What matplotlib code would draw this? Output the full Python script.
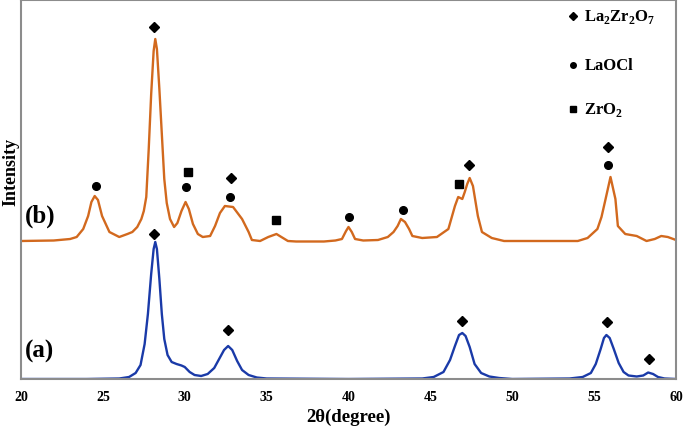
"""
XRD patterns (a) and (b) with phase markers
"""

import matplotlib
matplotlib.use("Agg")
import matplotlib.pyplot as plt

plt.rcParams["font.family"] = ["Liberation Serif", "DejaVu Serif"]
plt.rcParams["font.weight"] = "bold"
plt.rcParams["mathtext.fontset"] = "custom"
plt.rcParams["mathtext.rm"] = "Liberation Serif:bold"
plt.rcParams["mathtext.bf"] = "Liberation Serif:bold"

# Pattern (a) - blue
two_theta_a = [20, 24, 26, 26.6, 27.0, 27.3, 27.55, 27.75, 27.95, 28.1, 28.2,
               28.3, 28.45, 28.6, 28.75, 28.95, 29.2, 29.5, 29.8, 30.0, 30.3,
               30.6, 31.0, 31.4, 31.8, 32.1, 32.4, 32.65, 32.9, 33.2, 33.5,
               33.9, 34.4, 35, 40, 44.5, 45.2, 45.8, 46.2, 46.5, 46.75, 46.95,
               47.15, 47.4, 47.7, 48.1, 48.6, 49.2, 50, 53.5, 54.3, 54.8, 55.1,
               55.4, 55.6, 55.75, 55.95, 56.2, 56.5, 56.8, 57.1, 57.6, 58.0,
               58.3, 58.6, 58.9, 59.3, 60]
intens_a = [0, 0, 0.5, 2, 6, 14, 35, 65, 105, 130, 137,
            130, 100, 65, 40, 24, 17, 15, 13.5, 12, 7,
            4, 3, 5, 11, 20, 29, 33, 29, 18, 9,
            4, 1.5, 0.5, 0, 0.5, 2, 7, 19, 33, 44, 46,
            43, 32, 15, 6, 2.5, 1, 0, 0.5, 2, 6, 15,
            30, 41, 44, 41, 30, 16, 7, 3.5, 2.5, 3.5,
            6.5, 5, 2, 0.5, 0]

# Pattern (b) - orange
two_theta_b = [20, 22, 23.0, 23.4, 23.8, 24.1, 24.3, 24.5, 24.7, 24.95, 25.4,
               26.0, 26.5, 26.8, 27.1, 27.35, 27.5, 27.65, 27.8, 27.95, 28.1,
               28.2, 28.3, 28.45, 28.6, 28.75, 28.9, 29.1, 29.35, 29.55, 29.8,
               30.05, 30.25, 30.5, 30.8, 31.1, 31.55, 31.85, 32.15, 32.45,
               32.95, 33.5, 33.9, 34.1, 34.6, 35.1, 35.6, 36.3, 36.8, 38.5,
               39.2, 39.6, 39.85, 40.0, 40.2, 40.4, 40.9, 41.8, 42.4, 42.75,
               43.0, 43.2, 43.45, 43.7, 43.9, 44.5, 45.4, 46.1, 46.5, 46.7,
               46.95, 47.1, 47.25, 47.4, 47.6, 47.9, 48.15, 48.75, 49.5, 54,
               54.6, 55.2, 55.45, 55.7, 56.0, 56.3, 56.45, 56.9, 57.6, 58.2,
               58.7, 59.1, 59.5, 60]
intens_b = [138, 138.5, 140, 142, 150, 163, 177, 183, 179, 163, 147,
            142, 145, 147, 152, 160, 168, 182, 230, 285, 328,
            340, 330, 290, 245, 200, 176, 160, 152, 156, 168,
            177, 170, 155, 145, 142, 143, 153, 166, 173,
            172, 160, 147, 139, 138, 142, 145, 138, 137.5, 137.5,
            138.5, 140, 148, 152, 147, 140, 138.5, 139, 142, 147,
            153, 160, 157, 150, 143, 141, 142, 150, 173, 182,
            180, 187, 195, 201, 193, 163, 147, 141, 138, 138,
            141, 150, 162, 180, 202, 180, 153, 145, 143, 138,
            140, 143, 142, 139]

# Phase markers above the peaks
diamond_x = [28.12, 32.8, 47.36, 55.85, 28.1, 32.65, 46.95, 55.8, 58.35]
diamond_y = [352, 201, 214, 232, 145, 49, 58, 57, 20]
circle_x = [24.58, 30.1, 32.75, 40.0, 43.3, 55.85]
circle_y = [193, 192, 182, 162, 169, 214]
square_x = [30.2, 35.6, 46.75]
square_y = [207, 159, 195]

legend_labels = ["La$_2$Zr$_2$O$_7$", "LaOCl", "ZrO$_2$"]
legend_markers = ["D", "o", "s"]
legend_y = [363, 314, 270]

fig = plt.figure(figsize=(6.85, 4.27), dpi=100)
ax = fig.add_axes([21 / 685, 47 / 427, 655 / 685, 379 / 427])

ax.plot(two_theta_b, intens_b, color="#D2691E", lw=1.7)
ax.plot(two_theta_a, intens_a, color="#1A3AA8", lw=1.7)

ax.plot(diamond_x, diamond_y, "D", color="black", ms=5)
ax.plot(circle_x, circle_y, "o", color="black", ms=5.5)
ax.plot(square_x, square_y, "s", color="black", ms=5.5)

for lab, mk, ly in zip(legend_labels, legend_markers, legend_y):
    ax.plot(53.7, ly, mk, color="black", ms=4)
    ax.text(54.4, ly, lab, fontsize=12, va="center", ha="left")

ax.text(20.25, 164, "(b)", fontsize=18, va="center", ha="left")
ax.text(20.25, 29, "(a)", fontsize=18, va="center", ha="left")

ax.set_xlim(20, 60)
ax.set_ylim(0, 379)
ax.set_xticks(range(20, 61, 5))
ax.set_yticks([])
ax.tick_params(axis="x", length=0, pad=8, labelsize=10)
for lbl in ax.get_xticklabels():
    lbl.set_fontweight("bold")

for sp in ax.spines.values():
    sp.set_color("#8c8c8c")
    sp.set_linewidth(1.5)

ax.set_xlabel("2θ(degree)", fontsize=13.5, fontweight="bold", labelpad=3)
ax.set_ylabel("Intensity", fontsize=13, fontweight="bold")
ax.yaxis.set_label_coords(-0.002, 0.55)

fig.savefig("out.png", dpi=100)
